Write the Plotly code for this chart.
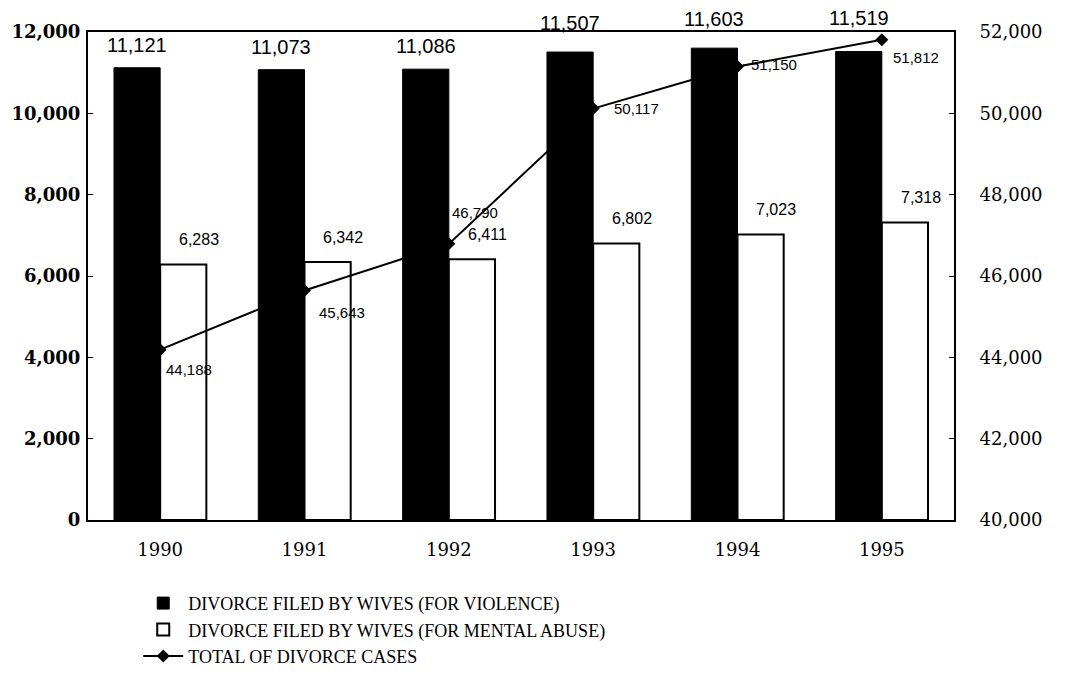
import plotly.graph_objects as go

# Datos
anios = ["1990", "1991", "1992", "1993", "1994", "1995"]
violencia = [11121, 11073, 11086, 11507, 11603, 11519]
abuso_mental = [6283, 6342, 6411, 6802, 7023, 7318]
total_divorcios = [44188, 45643, 46790, 50117, 51150, 51812]

fuente_serif = "DejaVu Serif"
fuente_sans = "Liberation Sans"

# Desplazamientos (px) de las etiquetas
despl_violencia = [10, 10, 10, 16, 16, 21]
despl_total = [(29, -20), (37, -22), (26, 31), (43, 0), (36, 2), (34, -18)]

fig = go.Figure()

# Barras negras (violencia)
fig.add_trace(go.Bar(
    x=anios, y=violencia,
    name="DIVORCE FILED BY WIVES (FOR VIOLENCE)",
    legendgroup="a",
    marker=dict(color="black", line=dict(color="black", width=1)),
))

# Barras blancas (abuso mental)
fig.add_trace(go.Bar(
    x=anios, y=abuso_mental,
    name="DIVORCE FILED BY WIVES (FOR MENTAL ABUSE)",
    legendgroup="b",
    marker=dict(color="white", line=dict(color="black", width=2)),
))

# Linea del total (eje derecho)
fig.add_trace(go.Scatter(
    x=anios, y=total_divorcios,
    name="TOTAL OF DIVORCE CASES",
    legendgroup="c",
    mode="lines+markers",
    line=dict(color="black", width=2),
    marker=dict(symbol="diamond", size=10, color="black"),
    yaxis="y2",
    cliponaxis=False,
))

# Etiquetas
for i, v in enumerate(violencia):
    fig.add_annotation(
        x=i - 0.16, y=v, xref="x", yref="y",
        text=f"{v:,}", showarrow=False,
        yanchor="bottom", yshift=despl_violencia[i],
        font=dict(family=fuente_sans, size=20, color="black"),
    )

for i, v in enumerate(abuso_mental):
    fig.add_annotation(
        x=i + 0.27, y=v, xref="x", yref="y",
        text=f"{v:,}", showarrow=False,
        yanchor="bottom", yshift=14,
        font=dict(family=fuente_sans, size=16, color="black"),
    )

for i, v in enumerate(total_divorcios):
    dx, dy = despl_total[i]
    fig.add_annotation(
        x=i, y=v, xref="x", yref="y2",
        text=f"{v:,}", showarrow=False,
        xshift=dx, yshift=dy,
        font=dict(family=fuente_sans, size=15, color="black"),
    )

fig.update_layout(
    width=1066, height=683,
    margin=dict(l=80, r=120, t=24, b=171),
    plot_bgcolor="white", paper_bgcolor="white",
    font=dict(family="Liberation Serif", color="black"),
    barmode="group", bargap=0.36, bargroupgap=0,
    showlegend=True,
    legend=dict(
        x=0.058, y=-0.133, xanchor="left", yanchor="top",
        font=dict(family="Liberation Serif", size=18, color="black"),
        traceorder="normal", itemwidth=40, tracegroupgap=11,
        bgcolor="rgba(0,0,0,0)",
    ),
    xaxis=dict(
        showline=True, linecolor="black", linewidth=2, mirror=True,
        ticks="", showgrid=False, ticklabelstandoff=12, automargin=False,
        tickfont=dict(family=fuente_serif, size=18, color="black"),
    ),
    yaxis=dict(
        range=[0, 12000], dtick=2000, tickformat=",",
        showline=True, linecolor="black", linewidth=2,
        ticks="inside", ticklen=5, tickcolor="black", automargin=False,
        showgrid=False, zeroline=False, ticklabelstandoff=2,
        tickfont=dict(family=fuente_serif, size=18, color="black", weight="bold"),
    ),
    yaxis2=dict(
        range=[40000, 52000], dtick=2000, tickformat=",",
        overlaying="y", side="right", automargin=False,
        showline=True, linecolor="black", linewidth=2,
        ticks="inside", ticklen=5, tickcolor="black",
        showgrid=False, zeroline=False, ticklabelstandoff=20,
        tickfont=dict(family=fuente_serif, size=18, color="black"),
    ),
)

fig.write_html("out.html")
